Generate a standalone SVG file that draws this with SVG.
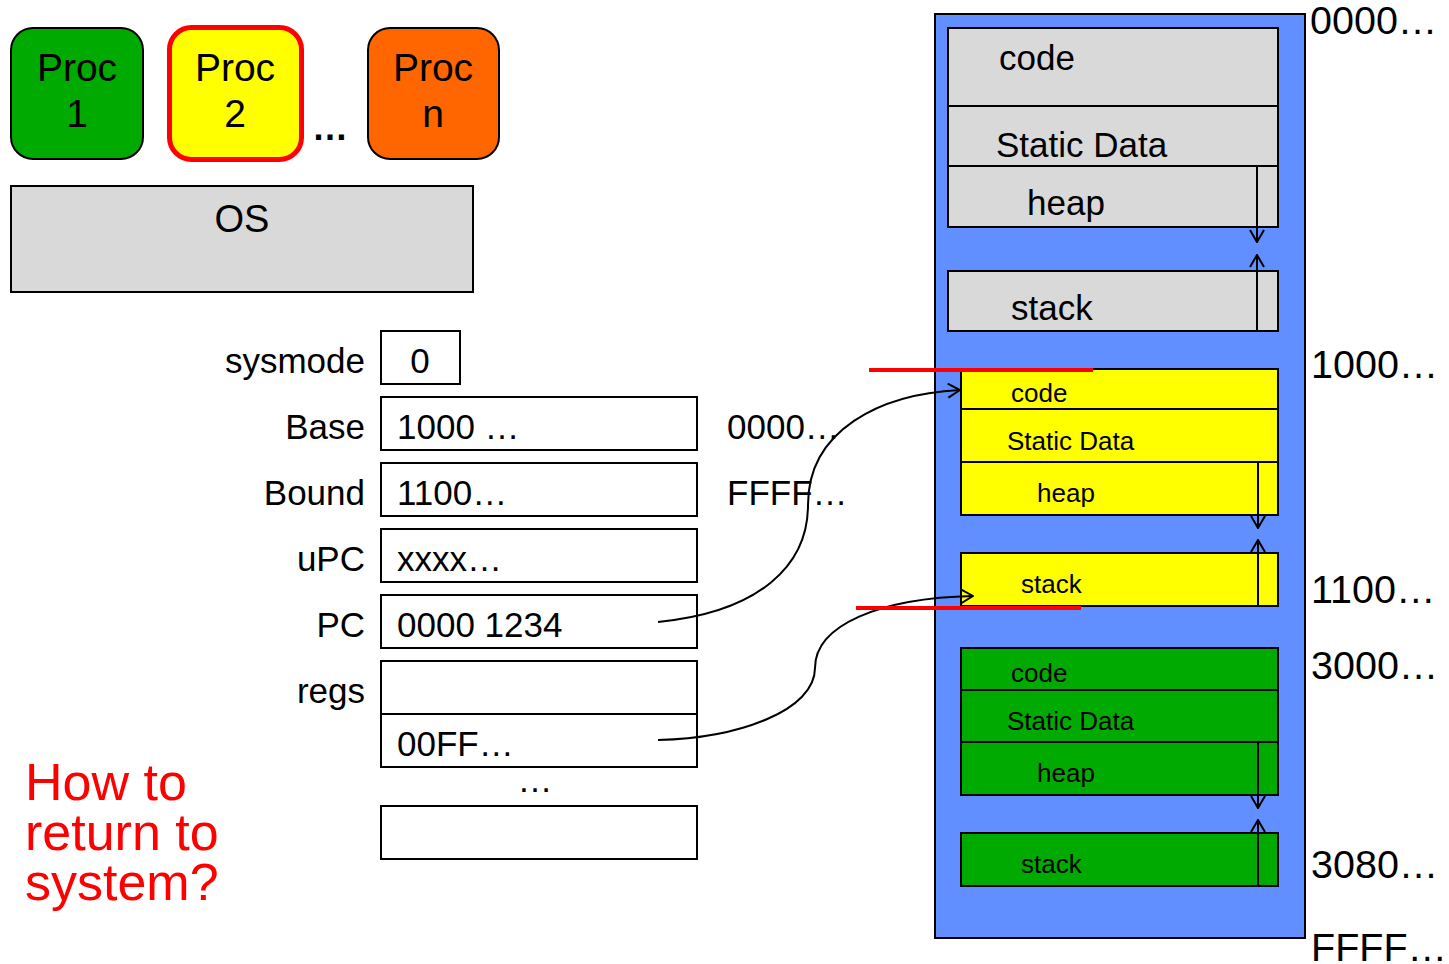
<svg xmlns="http://www.w3.org/2000/svg" width="1449" height="964" viewBox="0 0 1449 964">
<style>
text{font-family:"Liberation Sans",Arial,sans-serif;fill:#000}
.b{stroke:#000;stroke-width:2}
.gray{fill:#d9d9d9}
.yel{fill:#ffff00}
.grn{fill:#00aa00}
.reg{fill:#fff;stroke:#000;stroke-width:2}
.ln{fill:none;stroke:#000;stroke-width:2}
.red{stroke:#ff0000;stroke-width:4}
.f34{font-size:35px}
.f26{font-size:26px}
.f38{font-size:38px}
.f39{font-size:39.5px}
.lab{font-size:35px;text-anchor:end}
</style>
<defs>
<marker id="ah" viewBox="0 0 14 16" refX="13" refY="8" markerWidth="14" markerHeight="16" markerUnits="userSpaceOnUse" orient="auto">
<path d="M1,1 L13,8 L1,15" fill="none" stroke="#000" stroke-width="2"/>
</marker>
</defs>

<g id="proc1"><rect x="11" y="28" width="132" height="131" rx="22" fill="#00aa00" class="b"/><text x="77" y="81" text-anchor="middle" font-size="39">Proc</text><text x="77" y="127" text-anchor="middle" font-size="39">1</text></g>
<g id="proc2"><rect x="169.5" y="27.5" width="132" height="132" rx="22" fill="#ffff00" stroke="#ff0000" stroke-width="5"/><text x="235" y="81" text-anchor="middle" font-size="39">Proc</text><text x="235" y="127" text-anchor="middle" font-size="39">2</text></g>
<g id="dots"><text x="330" y="140" text-anchor="middle" font-size="36" font-weight="bold">…</text></g>
<g id="procn"><rect x="368" y="28" width="131" height="131" rx="22" fill="#ff6600" class="b"/><text x="433" y="81" text-anchor="middle" font-size="39">Proc</text><text x="433" y="127" text-anchor="middle" font-size="39">n</text></g>
<g id="os"><rect x="11" y="186" width="462" height="106" class="gray b"/><text x="242" y="232" text-anchor="middle" class="f38">OS</text></g>

<g id="registers">
<text x="365" y="373" class="lab">sysmode</text><rect x="381" y="331" width="79" height="53" class="reg"/><text x="420" y="373" text-anchor="middle" class="f34">0</text>
<text x="365" y="439" class="lab">Base</text><rect x="381" y="397" width="316" height="53" class="reg"/><text x="397" y="439" class="f34">1000 …</text>
<text x="365" y="505" class="lab">Bound</text><rect x="381" y="463" width="316" height="53" class="reg"/><text x="397" y="505" class="f34">1100…</text>
<text x="365" y="571" class="lab">uPC</text><rect x="381" y="529" width="316" height="53" class="reg"/><text x="397" y="571" class="f34">xxxx…</text>
<text x="365" y="637" class="lab">PC</text><rect x="381" y="595" width="316" height="53" class="reg"/><text x="397" y="637" class="f34">0000 1234</text>
<text x="365" y="703" class="lab">regs</text><rect x="381" y="661" width="316" height="53" class="reg"/>
<rect x="381" y="714" width="316" height="53" class="reg"/><text x="397" y="756" class="f34">00FF…</text>
<text x="535" y="792" text-anchor="middle" class="f34">…</text>
<rect x="381" y="806" width="316" height="53" class="reg"/>
<text x="727" y="439" class="f34">0000…</text>
<text x="727" y="505" class="f34">FFFF…</text>
</g>

<g id="question"><text x="25" y="800" font-size="52" style="fill:#ff0000">How to</text><text x="25" y="850" font-size="52" style="fill:#ff0000">return to</text><text x="25" y="900" font-size="52" style="fill:#ff0000">system?</text></g>

<g id="memory"><rect x="935" y="14" width="370" height="924" fill="#628fff" class="b"/></g>

<g id="os-space">
<rect x="948" y="28" width="330" height="78" class="gray b"/><text x="999" y="70" class="f34">code</text>
<rect x="948" y="106" width="330" height="60" class="gray b"/><text x="996" y="157" class="f34">Static Data</text>
<rect x="948" y="166" width="330" height="61" class="gray b"/><text x="1027" y="215" class="f34">heap</text>
<rect x="948" y="271" width="330" height="60" class="gray b"/><text x="1011" y="320" class="f34">stack</text>
<line x1="1257" y1="166" x2="1257" y2="242" class="ln" marker-end="url(#ah)"/>
<line x1="1257" y1="331" x2="1257" y2="255" class="ln" marker-end="url(#ah)"/>
</g>

<g id="proc2-space">
<rect x="961" y="369" width="317" height="40" class="yel b"/><text x="1011" y="402" class="f26">code</text>
<rect x="961" y="409" width="317" height="53" class="yel b"/><text x="1007" y="450" class="f26">Static Data</text>
<rect x="961" y="462" width="317" height="53" class="yel b"/><text x="1037" y="502" class="f26">heap</text>
<rect x="961" y="553" width="317" height="53" class="yel b"/><text x="1021" y="593" class="f26">stack</text>
<line x1="1258" y1="462" x2="1258" y2="528" class="ln" marker-end="url(#ah)"/>
<line x1="1258" y1="606" x2="1258" y2="540" class="ln" marker-end="url(#ah)"/>
</g>

<g id="proc1-space">
<rect x="961" y="648" width="317" height="42" class="grn b"/><text x="1011" y="682" class="f26">code</text>
<rect x="961" y="690" width="317" height="52" class="grn b"/><text x="1007" y="730" class="f26">Static Data</text>
<rect x="961" y="742" width="317" height="53" class="grn b"/><text x="1037" y="782" class="f26">heap</text>
<rect x="961" y="833" width="317" height="53" class="grn b"/><text x="1021" y="873" class="f26">stack</text>
<line x1="1258" y1="742" x2="1258" y2="808" class="ln" marker-end="url(#ah)"/>
<line x1="1258" y1="886" x2="1258" y2="820" class="ln" marker-end="url(#ah)"/>
</g>

<g id="addresses">
<text x="1310" y="34" class="f39">0000…</text>
<text x="1311" y="378" class="f39">1000…</text>
<text x="1311" y="603" class="f39">1100…</text>
<text x="1311" y="679" class="f39">3000…</text>
<text x="1311" y="878" class="f39">3080…</text>
<text x="1311" y="961" class="f39">FFFF…</text>
</g>

<g id="connectors">
<path d="M658,622 C760,612 808,565 808,505 C808,430 880,394 960,390" class="ln" marker-end="url(#ah)"/>
<path d="M658,740 C740,738 815,710 815,668 C815,625 880,598 973,596" class="ln" marker-end="url(#ah)"/>
<line x1="869" y1="370" x2="1093" y2="370" class="red"/>
<line x1="856" y1="608" x2="1081" y2="608" class="red"/>
</g>
</svg>
